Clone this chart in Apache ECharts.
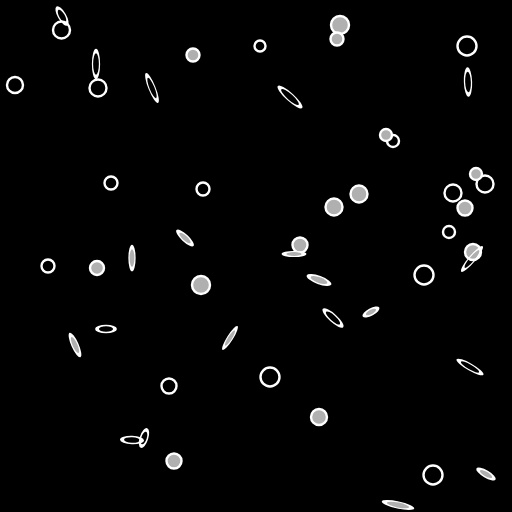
<!DOCTYPE html>
<html>
<head>
<meta charset="utf-8">
<script src="https://cdn.jsdelivr.net/npm/echarts@6/dist/echarts.min.js"></script>
<style>
html,body{margin:0;padding:0;background:#000;}
#c{width:512px;height:512px;}
</style>
</head>
<body>
<div id="c"></div>
<script>
// [x, y, diameter]
var hollowCircles = [
  [61.5,30,19],[15,85,18],[98,88,19],[260,46,13],[467,46,21],[393,141,14],
  [111,183,15],[203,189,15],[453,193,19],[485,184,19],[449,232,14],[48,266,15],
  [424,275,21],[169,386,17],[270,377,21],[433,475,21]
];
var grayCircles = [
  [340,25,20],[337,39,15],[193,55,15],[386,135,14],[359,194,19],[334,207,19],
  [476,174,14],[465,208,17],[300,245,17],[473,252,18],[97,268,16],[201,285,20],
  [319,417,18],[174,461,17]
];
// [x, y, long axis, short axis, angle (deg, counter-clockwise)]
var hollowEllipses = [
  [62,16,20,9,-60],[96,64,28,9,90],[152,88,29,8,-68],[290,97,30,9,-42],
  [468,82,27,9,92],[472,259,30,8,50],[106,329,20,9,0],[333,318,25,9,-42],
  [470,367,28,8,-30],[132,440,22,9,-2],[144,438,19,9,72]
];
var grayEllipses = [
  [185,238,21,8,-43],[132,258,24,8,90],[294,254,22,7,0],[319,280,24,9,-20],
  [75,345,24,8,-66],[230,338,25,7,58],[371,312,17,8,28],[486,474,20,8,-30],
  [398,505,30,8,-12]
];

var ellipsePath = 'path://M1,0C1.552,0 2,0.448 2,1C2,1.552 1.552,2 1,2C0.448,2 0,1.552 0,1C0,0.448 0.448,0 1,0Z';
var SW = 2.4;

function circleSeries(arr, fill) {
  return {
    type: 'scatter',
    symbol: 'circle',
    silent: true,
    data: arr.map(function (d) {
      return { value: [d[0], d[1]], symbolSize: d[2] - 2 };
    }),
    itemStyle: { color: fill, borderColor: '#ffffff', borderWidth: SW, opacity: 1 }
  };
}
function ellipseSeries(arr, fill) {
  return {
    type: 'scatter',
    symbol: ellipsePath,
    silent: true,
    data: arr.map(function (d) {
      return { value: [d[0], d[1]], symbolSize: [d[2] - 2, d[3] - 2], symbolRotate: d[4] };
    }),
    itemStyle: { color: fill, borderColor: '#ffffff', borderWidth: SW, opacity: 1 }
  };
}

var chart = echarts.init(document.getElementById('c'));
chart.setOption({
  backgroundColor: '#000000',
  animation: false,
  grid: { left: 0, right: 0, top: 0, bottom: 0 },
  xAxis: { type: 'value', min: 0, max: 512, show: false },
  yAxis: { type: 'value', min: 0, max: 512, inverse: true, show: false },
  series: [
    circleSeries(hollowCircles, 'rgba(0,0,0,0)'),
    circleSeries(grayCircles, '#b0b0b0'),
    ellipseSeries(grayEllipses, '#b0b0b0'),
    ellipseSeries(hollowEllipses, 'rgba(0,0,0,0)')
  ]
});
</script>
</body>
</html>
